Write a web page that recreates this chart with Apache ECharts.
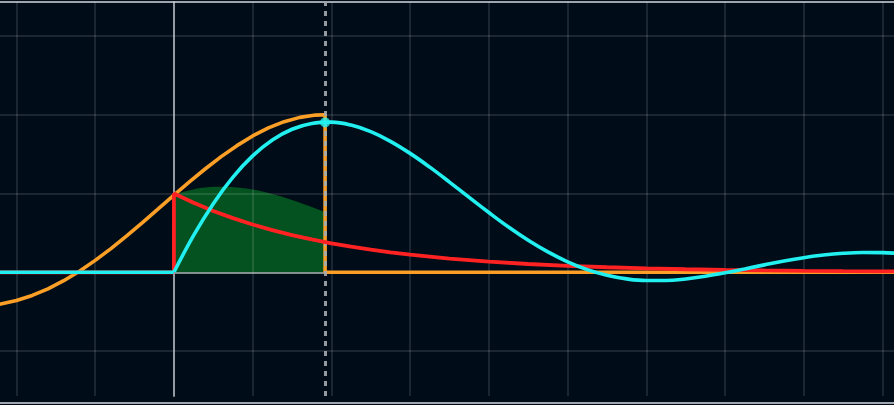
<!DOCTYPE html>
<html>
<head>
<meta charset="utf-8">
<script src="https://cdn.jsdelivr.net/npm/echarts@6/dist/echarts.min.js"></script>
<style>
html,body{margin:0;padding:0;background:#010c19;overflow:hidden;}
#chart{width:894px;height:405px;}
</style>
</head>
<body>
<div id="chart"></div>
<script>
// ---- data ----
const tNow = 1.92;
const xRange = [-2.209, 9.146];
const yRange = [-1.57, 3.43];

// orange: flipped & shifted kernel g(t - tau), zero after t
const orangeTau = [-2.3, -2.2, -2.0, -1.8, -1.6, -1.4, -1.2, -1.0, -0.8, -0.6, -0.4, -0.2, 0, 0.2, 0.4, 0.6, 0.8, 1.0, 1.2, 1.4, 1.6, 1.8, 1.92, 1.92, 9.3];
const orangeVal = [-0.418, -0.403, -0.358, -0.294, -0.210, -0.107, 0.014, 0.151, 0.301, 0.462, 0.631, 0.805, 0.979, 1.150, 1.314, 1.468, 1.607, 1.730, 1.832, 1.911, 1.966, 1.995, 2.0, 0, 0];

// red: input f(tau)
const redTau = [-2.3, 0, 0, 0.25, 0.5, 0.75, 1.0, 1.25, 1.5, 1.75, 2.0, 2.25, 2.5, 2.75, 3.0, 3.5, 4.0, 4.5, 5.0, 5.5, 6.0, 6.5, 7.0, 7.5, 8.0, 8.5, 9.0, 9.5];
const redVal = [0, 0, 1, 0.8825, 0.7788, 0.6873, 0.6065, 0.5353, 0.4724, 0.4169, 0.3679, 0.3247, 0.2865, 0.2528, 0.2231, 0.1738, 0.1353, 0.1054, 0.0821, 0.0639, 0.0498, 0.0388, 0.0302, 0.0235, 0.0183, 0.0143, 0.0111, 0.0087];

// green: product f(tau) * g(t - tau) on [0, t]
const greenTau = [0, 0.2, 0.4, 0.6, 0.8, 1.0, 1.2, 1.4, 1.6, 1.8, 1.92];
const greenVal = [0.979, 1.040, 1.076, 1.087, 1.077, 1.049, 1.005, 0.949, 0.883, 0.811, 0.766];

// cyan: convolution output
const cyanFlatT = [-2.3, 0];
const cyanFlatV = [0, 0];
const cyanT = [0, 0.25, 0.5, 0.75, 1.0, 1.25, 1.5, 1.75, 2.0, 2.25, 2.5, 2.75, 3.0, 3.25, 3.5, 3.75, 4.0, 4.25, 4.5, 4.75, 5.0, 5.25, 5.5, 5.75, 6.0, 6.25, 6.5, 6.75, 7.0, 7.25, 7.5, 7.75, 8.0, 8.25, 8.5, 8.75, 9.0, 9.25];
const cyanV = [0, 0.468, 0.871, 1.208, 1.477, 1.679, 1.815, 1.889, 1.905, 1.868, 1.784, 1.662, 1.509, 1.334, 1.145, 0.950, 0.758, 0.574, 0.406, 0.258, 0.133, 0.034, -0.038, -0.084, -0.105, -0.105, -0.085, -0.051, -0.007, 0.043, 0.094, 0.143, 0.185, 0.219, 0.241, 0.251, 0.249, 0.235];

const dotT = [1.92];
const dotV = [1.902];

const zip = (a, b) => a.map((v, i) => [v, b[i]]);

const CYAN = '#22f0f0';
const ORANGE = '#fb9f26';
const RED = '#ff2222';
const GREEN = '#04521f';

const chart = echarts.init(document.getElementById('chart'));
const gridLine = { color: 'rgba(255,255,255,0.15)', width: 1.5 };
const hidden = { show: false };

chart.setOption({
  backgroundColor: '#010c19',
  animation: false,
  grid: { left: 0, right: 0, top: 2, bottom: 9, containLabel: false },
  xAxis: [
    {
      type: 'value', min: xRange[0], max: xRange[1], splitNumber: 11, z: 1.5,
      axisLine: { show: true, onZero: true, lineStyle: { color: 'rgba(200,210,205,0.6)', width: 2 } },
      axisTick: hidden, axisLabel: hidden,
      splitLine: { show: true, showMinLine: false, showMaxLine: false, lineStyle: gridLine }
    },
    {
      type: 'value', position: 'top', min: xRange[0], max: xRange[1],
      axisLine: { show: true, onZero: false, lineStyle: { color: '#d3d9de', width: 1.5 } },
      axisTick: hidden, axisLabel: hidden, splitLine: hidden
    },
    {
      type: 'value', position: 'bottom', offset: 7, min: xRange[0], max: xRange[1],
      axisLine: { show: true, onZero: false, lineStyle: { color: '#d3d9de', width: 1.5 } },
      axisTick: hidden, axisLabel: hidden, splitLine: hidden
    }
  ],
  yAxis: {
    type: 'value', min: yRange[0], max: yRange[1], splitNumber: 5, z: 1.5,
    axisLine: { show: true, onZero: true, lineStyle: { color: 'rgba(200,205,210,0.7)', width: 2 } },
    axisTick: hidden, axisLabel: hidden,
    splitLine: { show: true, showMinLine: false, showMaxLine: false, lineStyle: gridLine }
  },
  series: [
    {
      name: 'product', type: 'line', z: 1, data: zip(greenTau, greenVal),
      showSymbol: false, symbol: 'none', smooth: true,
      lineStyle: { width: 0, opacity: 0 },
      areaStyle: { color: GREEN, opacity: 1 }
    },
    {
      name: 'kernel', type: 'line', z: 3, data: zip(orangeTau, orangeVal),
      symbol: 'none', lineStyle: { color: ORANGE, width: 3.6 }
    },
    {
      name: 'marker', type: 'line', z: 4, data: [],
      markLine: {
        silent: true, symbol: ['none', 'none'], label: { show: false },
        lineStyle: { color: 'rgba(165,170,175,0.9)', width: 3, type: [5, 5] },
        data: [{ xAxis: tNow }]
      }
    },
    {
      name: 'input', type: 'line', z: 5, data: zip(redTau, redVal),
      symbol: 'none', lineStyle: { color: RED, width: 3.8 }
    },
    {
      name: 'outputFlat', type: 'line', z: 6, data: zip(cyanFlatT, cyanFlatV),
      symbol: 'none', lineStyle: { color: CYAN, width: 3.6 }
    },
    {
      name: 'output', type: 'line', z: 6, data: zip(cyanT, cyanV),
      symbol: 'none', smooth: 0.4, lineStyle: { color: CYAN, width: 3.6 }
    },
    {
      name: 'now', type: 'scatter', z: 7, data: zip(dotT, dotV),
      symbolSize: 10, itemStyle: { color: CYAN }
    }
  ]
});
</script>
</body>
</html>
